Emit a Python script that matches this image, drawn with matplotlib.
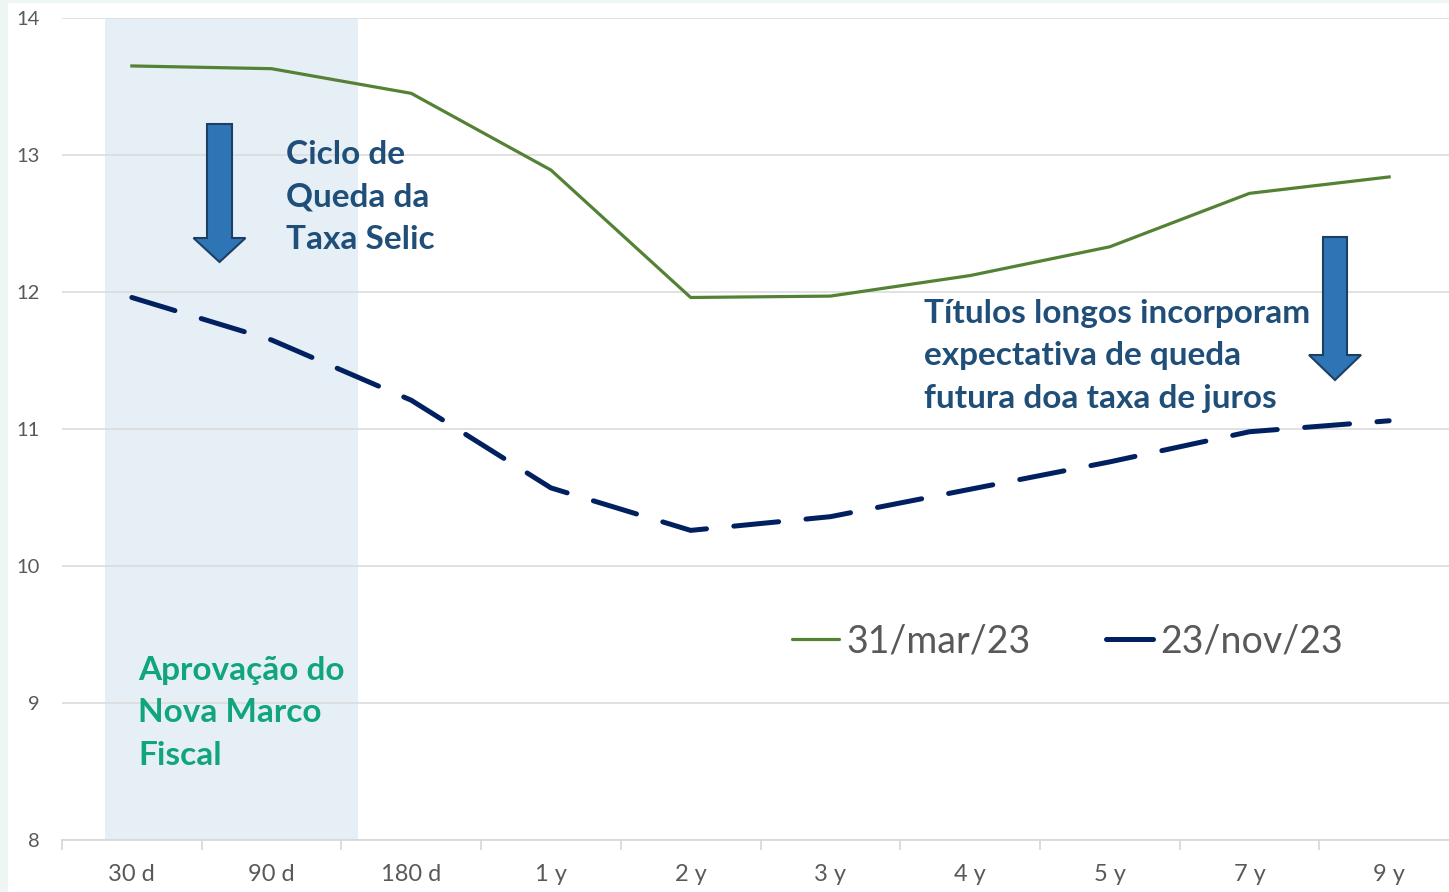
import matplotlib
matplotlib.use("Agg")
import matplotlib.pyplot as plt
from matplotlib.patches import Polygon, Rectangle
import numpy as np

# --- dados ---
prazos = ['30 d', '90 d', '180 d', '1 y', '2 y', '3 y', '4 y', '5 y', '7 y', '9 y']
curva_mar = [13.65, 13.63, 13.45, 12.89, 11.96, 11.97, 12.12, 12.33, 12.72, 12.84]
curva_nov = [11.96, 11.65, 11.21, 10.57, 10.26, 10.36, 10.56, 10.76, 10.98, 11.06]
rotulos = ['31/mar/23', '23/nov/23']

VERDE = '#548235'
MARINHO = '#002060'
AZUL_TXT = '#1F4E79'
VERDE_TXT = '#10A57A'
CINZA = '#595959'

plt.rcParams['font.family'] = ['Lato', 'DejaVu Sans']

W, H = 1449, 892
AX_L, AX_W = 62, 1397   # eixo passa um pouco da borda direita
fig = plt.figure(figsize=(W / 100, H / 100), dpi=100, facecolor='#EEF6F4')
fig.patches.append(Rectangle((8 / W, 0), 1, 1 - 3 / H, transform=fig.transFigure,
                             facecolor='white', edgecolor='none', zorder=-5))
ax = fig.add_axes([AX_L / W, 1 - 840 / H, AX_W / W, (840 - 18) / H])
ax.set_facecolor('none')

x = np.arange(len(prazos))
ax.axvspan(-0.19, 1.62, color='#E6EFF6', zorder=0, lw=0)

ax.plot(x, curva_mar, color=VERDE, lw=2.3, label=rotulos[0], zorder=3)
ax.plot(x, curva_nov, color=MARINHO, lw=3.6, dashes=(9, 5.5), dash_capstyle='round',
        label=rotulos[1], zorder=3)

ax.set_xlim(-0.5, len(prazos) - 0.5)
ax.set_ylim(8, 14)
ax.set_yticks(range(8, 15))
ax.grid(axis='y', color='#D9D9D9', lw=1.1, zorder=1)
ax.set_axisbelow(True)
for s in ['top', 'right', 'left']:
    ax.spines[s].set_visible(False)
ax.spines['bottom'].set_color('#D9D9D9')
ax.spines['bottom'].set_linewidth(1.3)

ax.set_xticks(x)
ax.set_xticklabels(prazos, fontsize=17, color=CINZA)
ax.set_xticks(np.arange(-0.5, len(prazos)), minor=True)
ax.tick_params(axis='x', which='major', length=0, pad=17)
ax.tick_params(axis='x', which='minor', length=7, color='#D9D9D9', width=1.3)
ax.tick_params(axis='y', length=0, labelsize=14.5, labelcolor=CINZA, pad=16)

leg = ax.legend(loc='center left', bbox_to_anchor=((777 - AX_L) / AX_W, 1 - (641 - 18) / 822),
                ncol=2, frameon=False, fontsize=27, handlelength=1.25, borderaxespad=0,
                handletextpad=0.2, columnspacing=2.0, labelcolor=CINZA)
for h in leg.get_lines():
    h.set_dashes((None, None))
    h.set_linestyle('-')
    h.set_solid_capstyle('round')

# --- anotações ---
kw = dict(fontsize=24, fontweight='bold', va='center', ha='left', linespacing=1.56)
fig.text(286 / W, 1 - 197 / H, 'Ciclo de\nQueda da\nTaxa Selic', color=AZUL_TXT, **kw)
fig.text(924 / W, 1 - 356 / H, 'Títulos longos incorporam\nexpectativa de queda\nfutura doa taxa de juros',
         color=AZUL_TXT, **kw)
fig.text(138 / W, 1 - 713 / H, 'Aprovação do\nNova Marco\nFiscal', color=VERDE_TXT, **kw)


def seta(xc, topo, base_cabeca, ponta, meia_haste, meia_cabeca):
    pts = [(xc - meia_haste, topo), (xc + meia_haste, topo), (xc + meia_haste, base_cabeca),
           (xc + meia_cabeca, base_cabeca), (xc, ponta), (xc - meia_cabeca, base_cabeca),
           (xc - meia_haste, base_cabeca)]
    pts = [(px / W, 1 - py / H) for px, py in pts]
    fig.patches.append(Polygon(pts, closed=True, transform=fig.transFigure,
                               facecolor='#2E75B6', edgecolor='#1F3E64', lw=1.5, zorder=5))


seta(219.5, 124, 238, 262, 12.5, 26)
seta(1335, 237, 355, 380, 12, 26)

fig.savefig('out.png', dpi=100, facecolor=fig.get_facecolor())
